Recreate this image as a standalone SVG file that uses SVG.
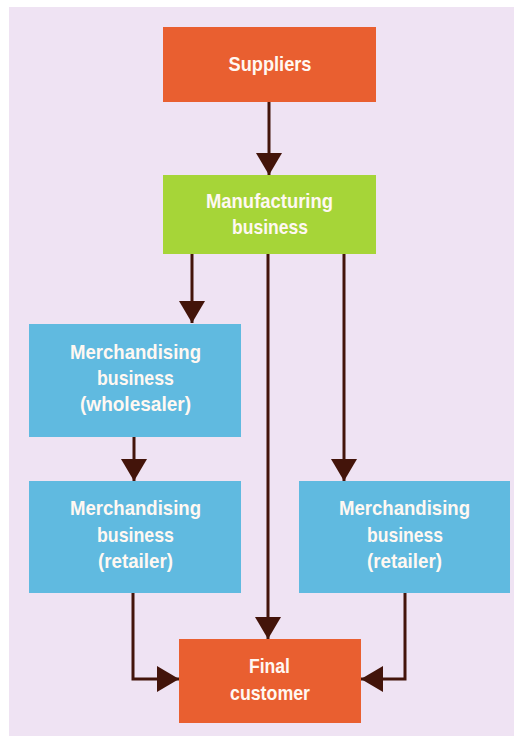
<svg xmlns="http://www.w3.org/2000/svg" width="514" height="736" viewBox="0 0 514 736">
<style>
.lbl{font-family:"Liberation Sans",Arial,sans-serif;font-weight:bold;font-size:20.5px;fill:#FFF8F2;text-anchor:middle}
.orange{fill:#E95F30}
.green{fill:#A6D538}
.blue{fill:#60BAE0}
.conn{fill:none;stroke:#43140A;stroke-width:3;marker-end:url(#ah)}
</style>
<defs>
<marker id="ah" markerUnits="userSpaceOnUse" markerWidth="24" markerHeight="28" refX="22" refY="13" orient="auto" viewBox="0 0 24 28">
<path d="M0,0 L22,13 L0,26 z" fill="#43140A"/>
</marker>
</defs>
<rect x="0" y="0" width="514" height="736" fill="#FFFFFF"/>
<rect x="9" y="7" width="505" height="729" fill="#EFE3F3"/>
<g id="connectors">
<path class="conn" d="M269,102 V175"/>
<path class="conn" d="M192,254 V323"/>
<path class="conn" d="M134,437 V481"/>
<path class="conn" d="M344,254 V481"/>
<path class="conn" d="M268,254 V639"/>
<path class="conn" d="M133,593 V679 H179"/>
<path class="conn" d="M405,593 V679 H361"/>
</g>
<g id="suppliers">
<rect class="orange" x="163" y="27" width="213" height="75"/>
<text class="lbl" x="270" y="71" textLength="83" lengthAdjust="spacingAndGlyphs">Suppliers</text>
</g>
<g id="manufacturing">
<rect class="green" x="163" y="175" width="213" height="79"/>
<text class="lbl" x="269.5" y="208" textLength="127" lengthAdjust="spacingAndGlyphs">Manufacturing</text>
<text class="lbl" x="270" y="234" textLength="76" lengthAdjust="spacingAndGlyphs">business</text>
</g>
<g id="wholesaler">
<rect class="blue" x="29" y="324" width="212" height="113"/>
<text class="lbl" x="135.5" y="359" textLength="131" lengthAdjust="spacingAndGlyphs">Merchandising</text>
<text class="lbl" x="135.5" y="385" textLength="77" lengthAdjust="spacingAndGlyphs">business</text>
<text class="lbl" x="135.5" y="411" textLength="111" lengthAdjust="spacingAndGlyphs">(wholesaler)</text>
</g>
<g id="retailer-left">
<rect class="blue" x="29" y="481" width="212" height="112"/>
<text class="lbl" x="135.5" y="515" textLength="131" lengthAdjust="spacingAndGlyphs">Merchandising</text>
<text class="lbl" x="135.5" y="542" textLength="77" lengthAdjust="spacingAndGlyphs">business</text>
<text class="lbl" x="135.5" y="568" textLength="75" lengthAdjust="spacingAndGlyphs">(retailer)</text>
</g>
<g id="retailer-right">
<rect class="blue" x="299" y="481" width="211" height="112"/>
<text class="lbl" x="404.5" y="515" textLength="131" lengthAdjust="spacingAndGlyphs">Merchandising</text>
<text class="lbl" x="405" y="542" textLength="76" lengthAdjust="spacingAndGlyphs">business</text>
<text class="lbl" x="404.5" y="568" textLength="75" lengthAdjust="spacingAndGlyphs">(retailer)</text>
</g>
<g id="final-customer">
<rect class="orange" x="179" y="639" width="182" height="84"/>
<text class="lbl" x="269.5" y="673" textLength="41" lengthAdjust="spacingAndGlyphs">Final</text>
<text class="lbl" x="270" y="700" textLength="80" lengthAdjust="spacingAndGlyphs">customer</text>
</g>
</svg>
